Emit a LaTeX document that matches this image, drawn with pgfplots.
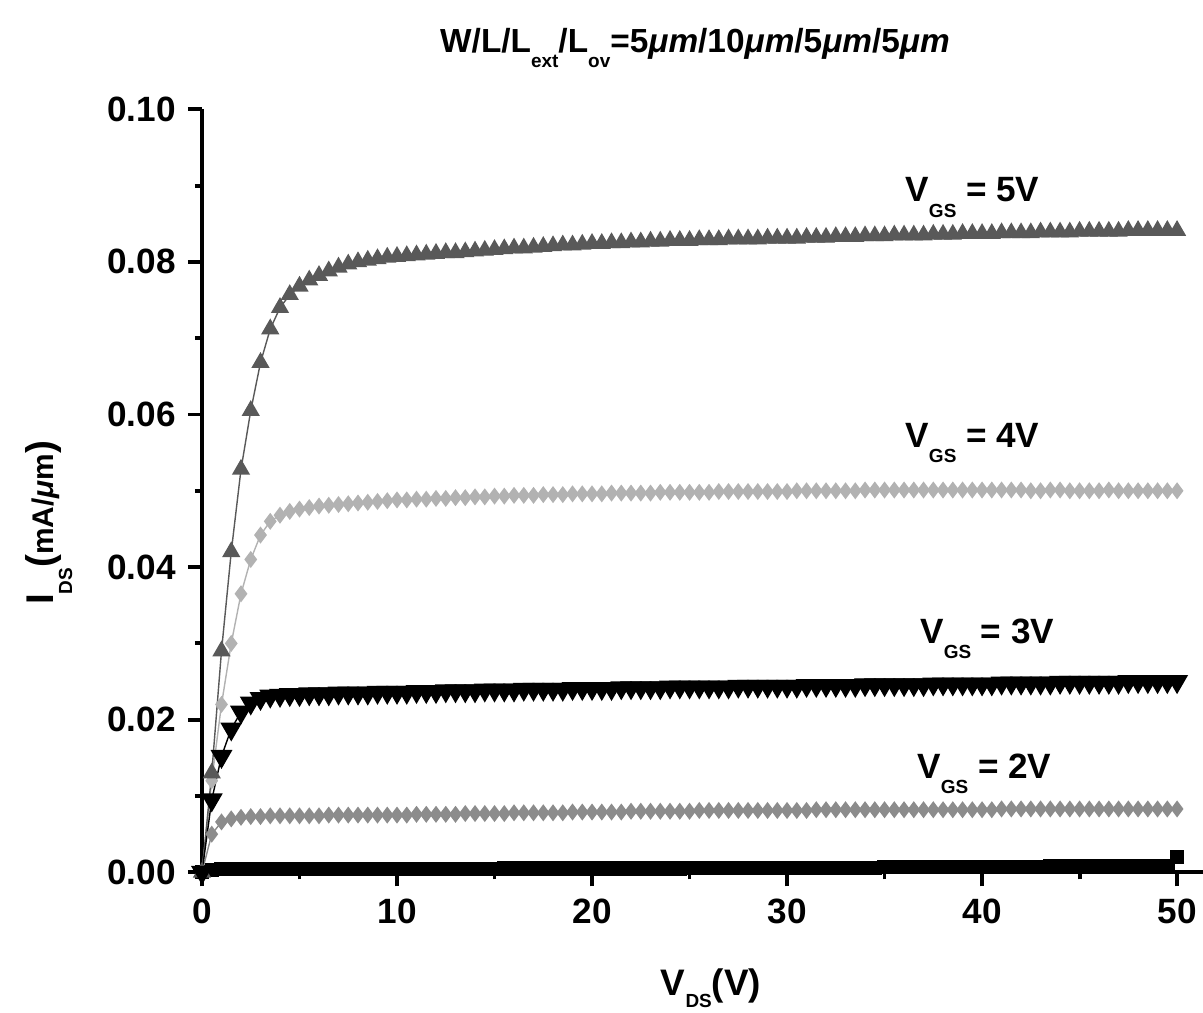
\documentclass[border=0pt]{standalone}
\usepackage{fontspec}
\setmainfont{Liberation Sans}
\usepackage{pgfplots}
\pgfplotsset{compat=1.18}
\usepackage{pgfplotstable}

% lowered subscript as in the original figure
\newcommand{\lowsub}[2][0.155cm]{\raisebox{-#1}{\fontsize{5.4}{6}\selectfont #2}}

% x = V_DS (V); g5..g1 = I_DS (mA/um) for V_GS = 5,4,3,2 V and the lowest curve
\pgfplotstableread{
x    g5     g4     g3     g2     g1
0.0  0.0000 0.0000 0.0000 0.0000 0.0000
0.5  0.0130 0.0120 0.0095 0.0050 0.0003
1.0  0.0290 0.0220 0.0152 0.0066 0.0004
1.5  0.0420 0.0300 0.0188 0.0070 0.0004
2.0  0.0528 0.0365 0.0210 0.0072 0.0004
2.5  0.0605 0.0410 0.0222 0.0073 0.0004
3.0  0.0668 0.0442 0.0228 0.0073 0.0004
3.5  0.0712 0.0460 0.0231 0.0074 0.0004
4.0  0.0740 0.0468 0.0232 0.0074 0.0004
4.5  0.0757 0.0473 0.0233 0.0074 0.0004
5.0  0.0768 0.0476 0.0233 0.0074 0.0004
5.5  0.0776 0.0478 0.0234 0.0074 0.0004
6.0  0.0782 0.0480 0.0234 0.0074 0.0004
6.5  0.0788 0.0481 0.0234 0.0075 0.0004
7.0  0.0793 0.0482 0.0235 0.0075 0.0004
7.5  0.0797 0.0483 0.0235 0.0075 0.0004
8.0  0.0800 0.0484 0.0235 0.0075 0.0004
8.5  0.0802 0.0485 0.0235 0.0075 0.0004
9.0  0.0804 0.0486 0.0236 0.0075 0.0004
9.5  0.0806 0.0487 0.0236 0.0075 0.0004
10.0 0.0807 0.0488 0.0236 0.0075 0.0004
10.5 0.0808 0.0488 0.0236 0.0075 0.0004
11.0 0.0809 0.0489 0.0237 0.0076 0.0004
11.5 0.0810 0.0489 0.0237 0.0076 0.0004
12.0 0.0811 0.0490 0.0237 0.0076 0.0004
12.5 0.0812 0.0490 0.0238 0.0076 0.0004
13.0 0.0812 0.0491 0.0238 0.0076 0.0004
13.5 0.0813 0.0491 0.0238 0.0077 0.0004
14.0 0.0814 0.0492 0.0238 0.0077 0.0004
14.5 0.0815 0.0492 0.0239 0.0077 0.0004
15.0 0.0816 0.0493 0.0239 0.0077 0.0004
15.5 0.0817 0.0493 0.0239 0.0077 0.0005
16.0 0.0818 0.0494 0.0239 0.0078 0.0005
16.5 0.0818 0.0494 0.0240 0.0078 0.0005
17.0 0.0819 0.0494 0.0240 0.0078 0.0005
17.5 0.0820 0.0495 0.0240 0.0078 0.0005
18.0 0.0821 0.0495 0.0240 0.0078 0.0005
18.5 0.0822 0.0495 0.0240 0.0078 0.0005
19.0 0.0822 0.0496 0.0241 0.0079 0.0005
19.5 0.0823 0.0496 0.0241 0.0079 0.0005
20.0 0.0824 0.0496 0.0241 0.0079 0.0005
20.5 0.0824 0.0496 0.0241 0.0079 0.0005
21.0 0.0825 0.0497 0.0241 0.0079 0.0005
21.5 0.0825 0.0497 0.0242 0.0079 0.0005
22.0 0.0826 0.0497 0.0242 0.0080 0.0005
22.5 0.0826 0.0497 0.0242 0.0080 0.0005
23.0 0.0827 0.0497 0.0242 0.0080 0.0005
23.5 0.0827 0.0498 0.0242 0.0080 0.0005
24.0 0.0828 0.0498 0.0243 0.0080 0.0005
24.5 0.0828 0.0498 0.0243 0.0080 0.0005
25.0 0.0828 0.0498 0.0243 0.0080 0.0006
25.5 0.0829 0.0498 0.0243 0.0081 0.0006
26.0 0.0829 0.0498 0.0243 0.0081 0.0006
26.5 0.0829 0.0499 0.0243 0.0081 0.0006
27.0 0.0830 0.0499 0.0243 0.0081 0.0006
27.5 0.0830 0.0499 0.0244 0.0081 0.0006
28.0 0.0830 0.0499 0.0244 0.0081 0.0006
28.5 0.0830 0.0499 0.0244 0.0081 0.0006
29.0 0.0831 0.0499 0.0244 0.0081 0.0006
29.5 0.0831 0.0499 0.0244 0.0081 0.0006
30.0 0.0831 0.0499 0.0244 0.0081 0.0006
30.5 0.0831 0.0500 0.0244 0.0081 0.0006
31.0 0.0832 0.0500 0.0245 0.0081 0.0006
31.5 0.0832 0.0500 0.0245 0.0082 0.0006
32.0 0.0832 0.0500 0.0245 0.0082 0.0006
32.5 0.0833 0.0500 0.0245 0.0082 0.0006
33.0 0.0833 0.0500 0.0245 0.0082 0.0006
33.5 0.0833 0.0500 0.0245 0.0082 0.0006
34.0 0.0834 0.0501 0.0246 0.0082 0.0006
34.5 0.0834 0.0501 0.0246 0.0082 0.0006
35.0 0.0834 0.0501 0.0246 0.0082 0.0007
35.5 0.0835 0.0501 0.0246 0.0082 0.0007
36.0 0.0835 0.0501 0.0246 0.0082 0.0007
36.5 0.0835 0.0501 0.0246 0.0082 0.0007
37.0 0.0835 0.0501 0.0246 0.0082 0.0007
37.5 0.0836 0.0501 0.0247 0.0082 0.0007
38.0 0.0836 0.0501 0.0247 0.0082 0.0007
38.5 0.0836 0.0501 0.0247 0.0082 0.0007
39.0 0.0837 0.0501 0.0247 0.0082 0.0007
39.5 0.0837 0.0501 0.0247 0.0082 0.0007
40.0 0.0837 0.0501 0.0247 0.0082 0.0007
40.5 0.0837 0.0501 0.0247 0.0082 0.0007
41.0 0.0838 0.0501 0.0248 0.0083 0.0007
41.5 0.0838 0.0501 0.0248 0.0083 0.0007
42.0 0.0838 0.0501 0.0248 0.0083 0.0007
42.5 0.0838 0.0500 0.0248 0.0083 0.0007
43.0 0.0839 0.0500 0.0248 0.0083 0.0007
43.5 0.0839 0.0501 0.0248 0.0083 0.0008
44.0 0.0839 0.0501 0.0249 0.0083 0.0008
44.5 0.0839 0.0500 0.0249 0.0083 0.0008
45.0 0.0840 0.0500 0.0249 0.0083 0.0008
45.5 0.0840 0.0500 0.0249 0.0083 0.0008
46.0 0.0840 0.0500 0.0249 0.0083 0.0008
46.5 0.0840 0.0501 0.0249 0.0083 0.0008
47.0 0.0840 0.0500 0.0249 0.0083 0.0008
47.5 0.0841 0.0500 0.0250 0.0083 0.0008
48.0 0.0841 0.0500 0.0250 0.0083 0.0008
48.5 0.0841 0.0500 0.0250 0.0083 0.0008
49.0 0.0841 0.0500 0.0250 0.0083 0.0008
49.5 0.0841 0.0500 0.0250 0.0083 0.0008
50.0 0.0841 0.0500 0.0250 0.0083 0.0020
}\ivdata

\begin{document}
\begin{tikzpicture}
\begin{axis}[
    name=ax,
    scale only axis,
    width=10.01cm, height=7.63cm,
    xmin=0, xmax=51.33, ymin=0, ymax=0.1,
    axis x line*=bottom, axis y line*=left,
    xtick={0,10,20,30,40,50},
    ytick={0,0.02,0.04,0.06,0.08,0.1},
    minor x tick num=1, minor y tick num=1,
    tick align=outside,
    major tick length=0.14cm, minor tick length=0.07cm,
    axis line style={line width=1.1pt},
    tick style={line width=1.1pt, black},
    scaled y ticks=false,
    /pgf/number format/assume math mode=true,
    tick label style={font=\fontsize{10}{12}\selectfont\bfseries},
    yticklabel style={/pgf/number format/.cd, fixed, fixed zerofill, precision=2},
    clip=false,
]

% lowest curve
\addplot[black, line width=0.3pt, mark=square*, mark size=1.9pt,
    mark options={fill=black}] table[x=x, y=g1] {\ivdata};

% V_GS = 2V
\addplot[black!45, line width=0.4pt, mark=diamond*, mark size=2.1pt,
    mark options={fill=black!45}] table[x=x, y=g2] {\ivdata};

% V_GS = 4V
\addplot[black!30, line width=0.4pt, mark=diamond*, mark size=2.1pt,
    mark options={fill=black!30}] table[x=x, y=g4] {\ivdata};

% V_GS = 5V
\addplot[black!65, line width=0.4pt, mark=triangle*, mark size=2.6pt,
    mark options={fill=black!65}] table[x=x, y=g5] {\ivdata};

% V_GS = 3V
\addplot[black, line width=0.4pt, mark=triangle*, mark size=3.2pt,
    mark options={fill=black, rotate=180}] table[x=x, y=g3] {\ivdata};

\begin{scope}[font=\fontsize{10}{12}\selectfont\bfseries]
\node[anchor=base west] at (axis cs:35.44,0.0879) {V\lowsub{GS} = 5V};
\node[anchor=base west] at (axis cs:35.44,0.0557) {V\lowsub{GS} = 4V};
\node[anchor=base west] at (axis cs:36.2,0.0300) {V\lowsub{GS} = 3V};
\node[anchor=base west] at (axis cs:36.05,0.0123) {V\lowsub{GS} = 2V};
\end{scope}

% title
\node[anchor=base, font=\fontsize{9.5}{11}\selectfont\bfseries] at (axis cs:25.28,0.1075)
    {W/L/L\lowsub{ext}/L\lowsub{ov}=5\textit{μm}/10\textit{μm}/5\textit{μm}/5\textit{μm}};

% axis labels
\node[anchor=base, font=\fontsize{10.5}{12}\selectfont\bfseries] at (axis cs:26.1,-0.0162)
    {V\lowsub[0.12cm]{DS}(V)};
\node[anchor=base, rotate=90, font=\fontsize{11}{13}\selectfont\bfseries] at (axis cs:-7.64,0.0458)
    {I\lowsub[0.19cm]{DS}({\fontsize{8.5}{9}\selectfont mA/\textit{μ}m})};

\end{axis}
\pgfresetboundingbox
\path[use as bounding box] ([xshift=-2.02cm,yshift=-1.40cm]ax.south west)
    rectangle ([yshift=1.093cm]ax.north east);
\end{tikzpicture}
\end{document}
